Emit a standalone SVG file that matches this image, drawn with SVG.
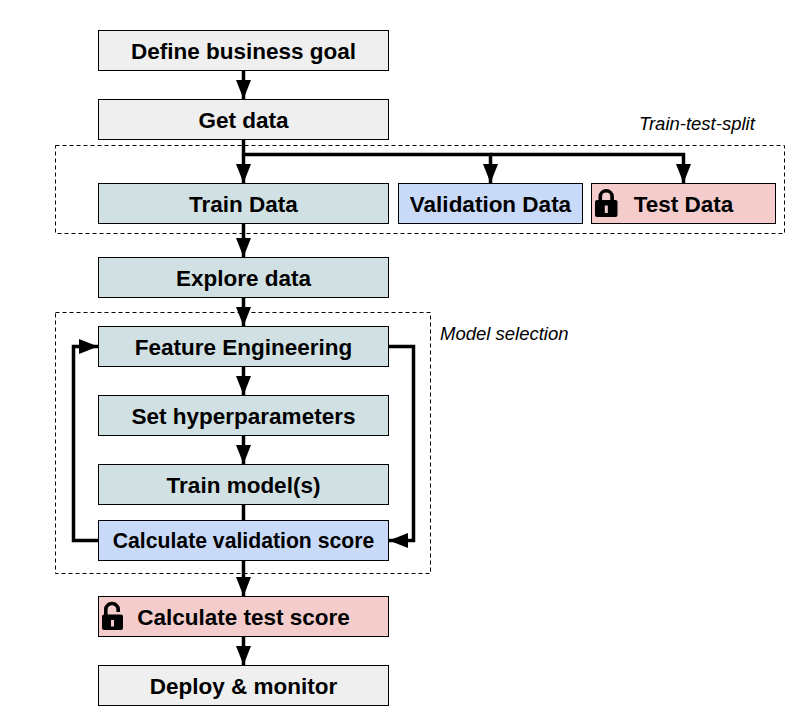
<svg xmlns="http://www.w3.org/2000/svg" width="807" height="727" viewBox="0 0 807 727">
<defs>
<marker id="ah" markerUnits="userSpaceOnUse" markerWidth="20" markerHeight="15" refX="19" refY="7.500" orient="auto"><path d="M0 0L19 7.500L0 15Z" fill="#000"/></marker>
</defs>
<style>
text{font-family:"Liberation Sans",Arial,sans-serif;fill:#000}
.n{stroke:#000;stroke-width:1}
.g{fill:#efefef}.t{fill:#d0e0e3}.b{fill:#c9daf8}.r{fill:#f4cccc}
.l{font-size:22.500px;font-weight:bold;text-anchor:middle}
.i{font-size:18.500px;font-style:italic}
.d{fill:none;stroke:#000;stroke-width:1;stroke-dasharray:4 3}
.c{fill:none;stroke:#000;stroke-width:3.500}
.a{marker-end:url(#ah)}
.s{fill:none;stroke:#000;stroke-width:3.600}
</style>
<g id="regions">
<rect class="d" x="55.500" y="145.500" width="729" height="88"/>
<rect class="d" x="55.500" y="312.500" width="375" height="261"/>
</g>
<g id="n-define"><rect class="n g" x="98.500" y="30.500" width="290" height="40"/><text class="l" x="243.500" y="58.500">Define business goal</text></g>
<g id="n-get"><rect class="n g" x="98.500" y="99.500" width="290" height="40"/><text class="l" x="243.500" y="127.500">Get data</text></g>
<g id="n-train"><rect class="n t" x="98.500" y="183.500" width="290" height="40"/><text class="l" x="243.500" y="211.500">Train Data</text></g>
<g id="n-val"><rect class="n b" x="398.500" y="183.500" width="184" height="40"/><text class="l" x="490.500" y="211.500">Validation Data</text></g>
<g id="n-test"><rect class="n r" x="591.500" y="183.500" width="184" height="40"/><path class="s" d="M600.300 201V196.500a5.900 5.700 0 0 1 11.800 0V201"/><rect x="595" y="200" width="22.500" height="17" rx="2" fill="#000"/><rect x="604.800" y="205.500" width="3" height="7.500" fill="#f4cccc"/><text class="l" x="683.500" y="211.500">Test Data</text></g>
<g id="n-explore"><rect class="n t" x="98.500" y="257.500" width="290" height="40"/><text class="l" x="243.500" y="285.500">Explore data</text></g>
<g id="n-feature"><rect class="n t" x="98.500" y="326.500" width="290" height="40"/><text class="l" x="243.500" y="354.500">Feature Engineering</text></g>
<g id="n-hyper"><rect class="n t" x="98.500" y="395.500" width="290" height="40"/><text class="l" x="243.500" y="423.500">Set hyperparameters</text></g>
<g id="n-model"><rect class="n t" x="98.500" y="464.500" width="290" height="40"/><text class="l" x="243.500" y="492.500">Train model(s)</text></g>
<g id="n-valscore"><rect class="n b" x="98.500" y="520.500" width="290" height="40"/><text class="l" x="243.500" y="548" style="font-size:21.200px">Calculate validation score</text></g>
<g id="n-testscore"><rect class="n r" x="98.500" y="596.500" width="290" height="40"/><path class="s" d="M105.800 616V609.500a6.200 6 0 0 1 12.400 0V612"/><rect x="102" y="614.500" width="21" height="15.500" rx="2" fill="#000"/><rect x="111" y="620" width="3" height="6.500" fill="#f4cccc"/><text class="l" x="243.500" y="624.500">Calculate test score</text></g>
<g id="n-deploy"><rect class="n g" x="98.500" y="665.500" width="290" height="40"/><text class="l" x="243.500" y="693.500">Deploy &amp; monitor</text></g>
<g id="labels">
<text class="i" x="639" y="130">Train-test-split</text>
<text class="i" x="440" y="340">Model selection</text>
</g>
<g id="connectors">
<path class="c a" d="M243.500 71V99"/>
<path class="c a" d="M243.500 140V183"/>
<path class="c a" d="M243.500 154.500H490.500V183"/>
<path class="c a" d="M490.500 154.500H683.500V183"/>
<path class="c a" d="M243.500 224V257"/>
<path class="c a" d="M243.500 298V326"/>
<path class="c a" d="M243.500 367V395"/>
<path class="c a" d="M243.500 436V464"/>
<path class="c" d="M243.500 505V520"/>
<path class="c a" d="M243.500 561V596"/>
<path class="c a" d="M243.500 637V665"/>
<path class="c a" d="M98 540.500H73.500V346.500H98"/>
<path class="c a" d="M389 346.500H413.500V540.500H389"/>
</g>
</svg>
